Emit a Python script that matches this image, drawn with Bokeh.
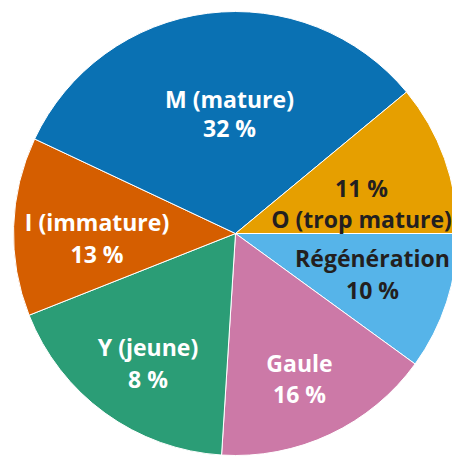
import math
from bokeh.plotting import figure
from bokeh.models import Range1d, ColumnDataSource
from bokeh.core.properties import value
from bokeh.embed import file_html
from bokeh.resources import INLINE

# ---- data (clockwise from 3 o'clock) ----
categories = ["Régénération", "Gaule", "Y (jeune)", "I (immature)", "M (mature)", "O (trop mature)"]
shares = [10, 16, 18, 13, 32, 11]
pct_labels = ["10 %", "16 %", "8 %", "13 %", "32 %", "11 %"]
colors = ["#56b4e9", "#cc79a7", "#2b9d76", "#d55e00", "#0a71b3", "#e69f00"]
text_colors = ["#231f20", "white", "white", "white", "white", "#231f20"]

W, H = 452, 458
CX, CY, R = 235, H - 233, 222

p = figure(width=W, height=H, x_range=Range1d(0, W), y_range=Range1d(0, H),
           output_backend="svg", toolbar_location=None, min_border=0,
           outline_line_color=None, background_fill_color="white")
p.axis.visible = False
p.grid.visible = False

total = sum(shares)
cum = 0
starts, ends = [], []
for s in shares:
    a0 = -2 * math.pi * cum / total
    cum += s
    a1 = -2 * math.pi * cum / total
    starts.append(a1)
    ends.append(a0)

src = ColumnDataSource(dict(start=starts, end=ends, color=colors, cat=categories))
p.wedge(x=CX, y=CY, radius=R, radius_units="screen", start_angle="start", end_angle="end",
        fill_color="color", line_color="white", line_width=1, source=src)

# label placement (page pixel centres of the two lines), layout only
label_pos = {
    "Régénération": (372, 257.5, 289),
    "Gaule": (299, 362.5, 393),
    "Y (jeune)": (147.5, 346.7, 378),
    "I (immature)": (96.5, 221.7, 253),
    "M (mature)": (229, 98, 127),
    "O (trop mature)": (361, 218, 187.5),
}

xs, ys, texts, tcols = [], [], [], []
for cat, pct, tc in zip(categories, pct_labels, text_colors):
    px, y_name, y_pct = label_pos[cat]
    for t, yy in ((cat, y_name), (pct, y_pct)):
        xs.append(px)
        ys.append(H - yy)
        texts.append(t)
        tcols.append(tc)

tsrc = ColumnDataSource(dict(x=xs, y=ys, text=texts, color=tcols))
p.text(x="x", y="y", text="text", text_color="color", source=tsrc,
       text_font=value("Open Sans"), text_font_style="bold", text_font_size="23px",
       text_align="center", text_baseline="middle")

open("out.html", "w").write(file_html(p, INLINE))
